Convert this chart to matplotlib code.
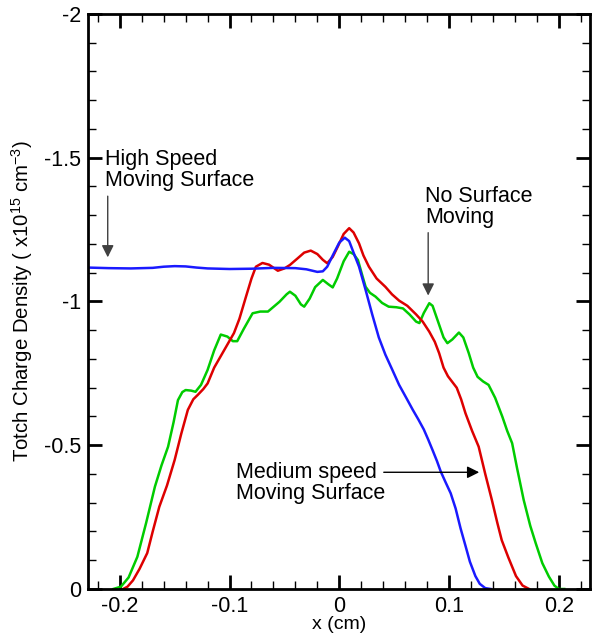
import numpy as np
import matplotlib
matplotlib.use("Agg")
import matplotlib.pyplot as plt
from matplotlib.ticker import MultipleLocator

plt.rcParams['font.family'] = ['Liberation Sans', 'DejaVu Sans']
plt.rcParams['mathtext.fontset'] = 'custom'
plt.rcParams['mathtext.rm'] = 'Liberation Sans'
plt.rcParams['mathtext.it'] = 'Liberation Sans'

# high speed moving surface
blue_x = [-0.229, -0.21, -0.19, -0.17, -0.16, -0.15, -0.14, -0.13, -0.12, -0.10,
          -0.08, -0.06, -0.04, -0.03, -0.02, -0.015, -0.011, -0.006, 0.0, 0.005,
          0.009, 0.013, 0.018, 0.024, 0.030, 0.036, 0.042, 0.048, 0.0545, 0.061,
          0.067, 0.072, 0.077, 0.081, 0.085, 0.089, 0.0925, 0.097, 0.1015, 0.106,
          0.1105, 0.115, 0.119, 0.124, 0.128, 0.133, 0.138]
blue_y = [-1.118, -1.116, -1.115, -1.117, -1.121, -1.123, -1.122, -1.118, -1.115, -1.113,
          -1.114, -1.117, -1.116, -1.112, -1.103, -1.105, -1.121, -1.16, -1.205, -1.222,
          -1.21, -1.17, -1.121, -1.04, -0.955, -0.875, -0.815, -0.765, -0.71, -0.665,
          -0.623, -0.59, -0.555, -0.52, -0.483, -0.445, -0.408, -0.37, -0.333, -0.28,
          -0.211, -0.15, -0.095, -0.045, -0.018, -0.003, 0.0]

# medium speed moving surface
red_x = [-0.197, -0.193, -0.188, -0.182, -0.175, -0.17, -0.164, -0.157, -0.150, -0.144,
         -0.138, -0.133, -0.129, -0.124, -0.12, -0.114, -0.108, -0.102, -0.096, -0.091,
         -0.085, -0.080, -0.076, -0.070, -0.064, -0.056, -0.050, -0.045, -0.038, -0.032,
         -0.026, -0.020, -0.015, -0.011, -0.006, -0.0015, 0.004, 0.009, 0.013, 0.018,
         0.022, 0.027, 0.034, 0.042, 0.048, 0.0545, 0.062, 0.070, 0.076, 0.082,
         0.087, 0.091, 0.095, 0.099, 0.103, 0.107, 0.111, 0.115, 0.121, 0.127,
         0.133, 0.139, 0.144, 0.148, 0.154, 0.161, 0.167, 0.173]
red_y = [0.0, -0.008, -0.03, -0.07, -0.125, -0.2, -0.286, -0.36, -0.449, -0.54,
         -0.623, -0.66, -0.675, -0.695, -0.715, -0.77, -0.81, -0.85, -0.89, -0.94,
         -1.017, -1.08, -1.121, -1.134, -1.128, -1.107, -1.115, -1.127, -1.15, -1.17,
         -1.177, -1.165, -1.145, -1.133, -1.155, -1.19, -1.235, -1.255, -1.24, -1.202,
         -1.16, -1.121, -1.08, -1.051, -1.025, -1.003, -0.985, -0.955, -0.93, -0.895,
         -0.86, -0.82, -0.77, -0.74, -0.72, -0.70, -0.66, -0.611, -0.55, -0.495,
         -0.40, -0.31, -0.23, -0.17, -0.11, -0.045, -0.012, 0.0]

# no surface moving
green_x = [-0.206, -0.199, -0.192, -0.184, -0.176, -0.168, -0.162, -0.156, -0.151, -0.147,
           -0.143, -0.140, -0.135, -0.131, -0.126, -0.12, -0.114, -0.108, -0.102, -0.097,
           -0.093, -0.087, -0.079, -0.072, -0.065, -0.0545, -0.048, -0.045, -0.040, -0.035,
           -0.032, -0.027, -0.022, -0.015, -0.010, -0.006, -0.002, 0.004, 0.009, 0.013,
           0.017, 0.021, 0.024, 0.028, 0.033, 0.039, 0.045, 0.052, 0.058, 0.064,
           0.070, 0.073, 0.077, 0.082, 0.085, 0.090, 0.095, 0.0985, 0.103, 0.109,
           0.113, 0.118, 0.122, 0.126, 0.131, 0.136, 0.142, 0.1485, 0.153, 0.1575,
           0.162, 0.168, 0.174, 0.179, 0.185, 0.191, 0.196, 0.200, 0.205]
green_y = [0.0, -0.008, -0.04, -0.112, -0.23, -0.356, -0.43, -0.495, -0.58, -0.657,
           -0.685, -0.692, -0.690, -0.686, -0.71, -0.762, -0.83, -0.885, -0.878, -0.862,
           -0.862, -0.905, -0.959, -0.965, -0.965, -0.999, -1.025, -1.034, -1.02, -0.99,
           -0.982, -1.01, -1.05, -1.075, -1.06, -1.049, -1.08, -1.14, -1.173, -1.165,
           -1.144, -1.09, -1.051, -1.03, -1.017, -0.995, -0.982, -0.98, -0.976, -0.955,
           -0.93, -0.925, -0.96, -0.994, -0.985, -0.93, -0.875, -0.855, -0.868, -0.892,
           -0.875, -0.82, -0.77, -0.738, -0.722, -0.71, -0.665, -0.60, -0.55, -0.507,
           -0.42, -0.31, -0.22, -0.159, -0.09, -0.043, -0.012, 0.0, 0.0]

x_ticks = [-0.2, -0.1, 0, 0.1, 0.2]
x_tick_labels = ['-0.2', '-0.1', '0', '0.1', '0.2']
y_ticks = [0, -0.5, -1, -1.5, -2]
y_tick_labels = ['0', '-0.5', '-1', '-1.5', '-2']

fig = plt.figure(figsize=(5.92, 6.36), dpi=100)
ax = fig.add_axes([0.1486, 0.0739, 0.8472, 0.9041])

ax.plot(green_x, green_y, color='#00cc00', lw=1.8, solid_joinstyle='round')
ax.plot(red_x, red_y, color='#dd0000', lw=1.8, solid_joinstyle='round')
ax.plot(blue_x, blue_y, color='#1a1aff', lw=1.8, solid_joinstyle='round')

ax.set_xlim(-0.229, 0.228)
ax.set_ylim(0, -2)
ax.set_xticks(x_ticks)
ax.set_xticklabels(x_tick_labels)
ax.set_yticks(y_ticks)
ax.set_yticklabels(y_tick_labels)
ax.xaxis.set_minor_locator(MultipleLocator(0.02))
ax.yaxis.set_minor_locator(MultipleLocator(0.1))
ax.tick_params(which='both', direction='in', top=True, right=True, labelsize=15.5)
ax.tick_params(axis='x', pad=5)
ax.tick_params(axis='y', pad=5)
ax.tick_params(which='major', length=10, width=2)
ax.tick_params(which='minor', length=6, width=1)
for s in ax.spines.values():
    s.set_linewidth(2)

ax.set_xlabel('x (cm)', fontsize=14, labelpad=-1)
ax.set_ylabel('Totch Charge Density ( x10$^{15}$ cm$^{-3}$)', fontsize=14.7, labelpad=6)

arrow = dict(arrowstyle='-|>', color='0.25', lw=1, mutation_scale=18)
ax.text(-0.2135, -1.457, 'High Speed\nMoving Surface', fontsize=15.5, va='center', ha='left',
        linespacing=1.0)
ax.annotate('', xy=(-0.211, -1.144), xytext=(-0.211, -1.376), arrowprops=arrow)

ax.text(0.0785, -1.33, 'No Surface\nMoving', fontsize=15.5, va='center', ha='left',
        linespacing=1.0)
ax.annotate('', xy=(0.081, -1.011), xytext=(0.081, -1.249), arrowprops=arrow)

ax.text(-0.0945, -0.37, 'Medium speed\nMoving Surface', fontsize=15.5, va='center', ha='left',
        linespacing=1.0)
ax.annotate('', xy=(0.130, -0.406), xytext=(0.038, -0.406),
            arrowprops=dict(arrowstyle='-|>', color='black', lw=1, mutation_scale=18))

fig.savefig('out.png', dpi=100)
